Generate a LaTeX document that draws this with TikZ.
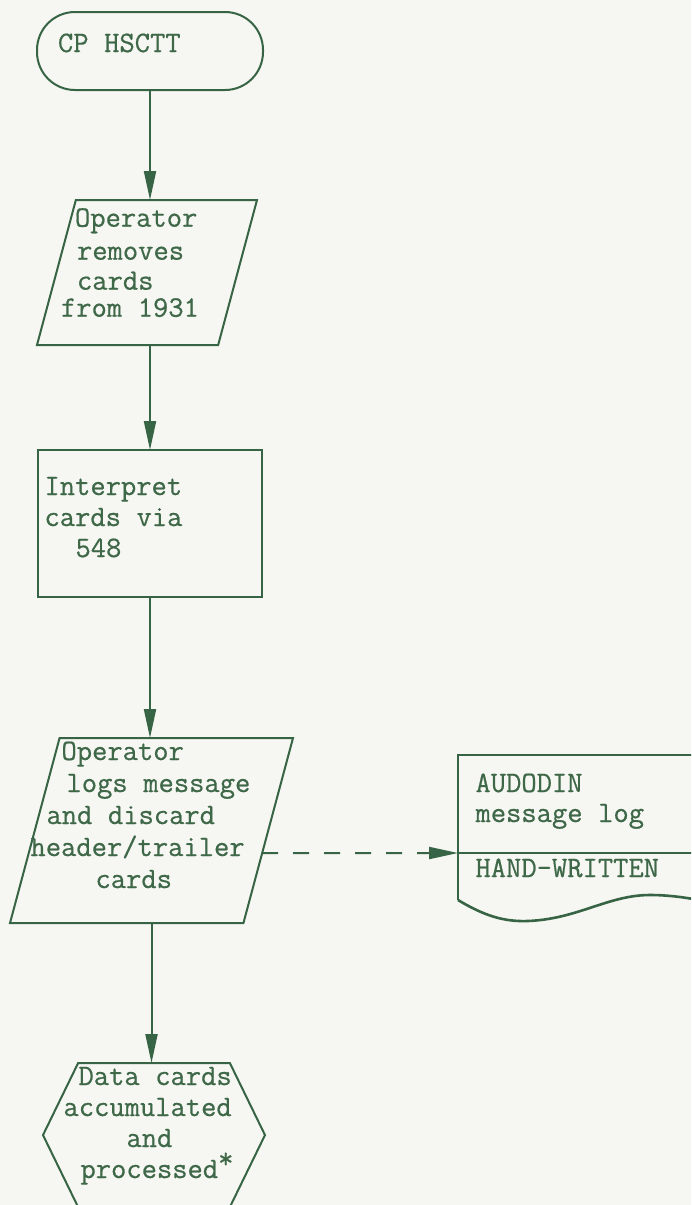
\documentclass[tikz,border=0pt]{standalone}
\usepackage{fontspec}
\newfontfamily\typer{Latin Modern Mono}[FakeBold=0.6]
\usetikzlibrary{arrows.meta,positioning,calc,shapes.geometric,shapes.symbols}

\definecolor{ink}{RGB}{55,100,68}
\definecolor{typecol}{RGB}{62,104,72}
\definecolor{paper}{RGB}{246,247,242}

\newcommand{\ind}[1]{\hspace*{#1pt}}
\newcommand{\gap}{\hspace*{15.6pt}}
\protected\def\typeface{\typer\fontsize{29.7pt}{31pt}\selectfont}

\begin{document}
\begin{tikzpicture}[x=1pt,y=-1pt,line width=2pt,
                    >={Triangle[length=29pt,width=12pt]}]
  \tikzset{
    every node/.style={inner sep=0pt,outer sep=0pt},
    typed/.style={font=\typeface,text=typecol,anchor=base west,
                  text width=260pt,align=left},
    term/.style={draw=ink,rectangle,rounded corners=38pt,
                 minimum width=226pt,minimum height=78pt},
    io/.style={draw=ink,trapezium,trapezium left angle=75,
               trapezium right angle=105,trapezium stretches body,
               text depth=0pt},
    proc/.style={draw=ink,rectangle,minimum width=224pt,minimum height=147pt},
    prep/.style={draw=ink,signal,signal to=west and east,
                 signal pointer angle=128,
                 minimum width=222pt,minimum height=144pt},
    flow/.style={->,draw=ink}
  }
  \useasboundingbox (0,0) rectangle (691,1205);
  \fill[paper] (0,0) rectangle (691,1205);
  \clip (0,0) rectangle (691,1205);

  \node[term] (start) at (150,51) {};
  \node[io,text height=145pt,minimum width=220pt]
        (remove) [below=110pt of start,xshift=-3pt] {};
  \node[proc] (interp) [below=105pt of remove,xshift=3pt] {};
  \node[io,text height=185pt,minimum width=283pt]
        (discard) [below=141pt of interp,xshift=1.5pt] {};
  \node[prep] (accum) [below=140pt of discard,xshift=2.5pt] {};
  \node[minimum width=262pt,minimum height=98pt] (log) at (589,804) {};

  % texts
  \node[typed] (start-t)   at (58,52)     {CP\gap HSCTT};
  \node[typed] (remove-t)  at (61,226.7)  {\ind{14}Operator\\[2pt]\ind{16}removes\\[-1pt]\ind{16}cards\\[-4pt]from\gap 1931};
  \node[typed] (interp-t)  at (44.5,495)  {Interpret\\cards\gap via\\\ind{31}548};
  \node[typed] (discard-t) at (30.5,760)  {\ind{31}Operator\\[1pt]\ind{36}logs\gap message\\[1pt]\ind{16}and\gap discard\\[1pt]header/trailer\\[1pt]\ind{65}cards};
  \node[typed] (accum-t)   at (63.5,1085) {\ind{15}Data\gap cards\\accumulated\\\ind{63}and\\\ind{17}processed\raisebox{10pt}{*}};
  \node[typed] (log-t)     at (475.5,792) {AUDODIN\\[-1pt]message\gap log};
  \node[typed] (hand-t)    at (475.5,877) {HAND-WRITTEN};

  % document outline
  \draw[ink] (log.north east) -- (log.north west) -- (log.south west) -- (log.south east);
  \begin{scope}[shift={(log.south west)}]
    \draw[ink] (0,0) -- (0,47);
    \draw[ink,line width=2.6pt] (0,47) .. controls (25,62) and (45,69) .. (70,68)
          .. controls (120,66) and (150,42) .. (192,42)
          .. controls (215,42) and (240,46) .. (262,52);
  \end{scope}

  \draw[flow] (start.south) -- (start.south |- remove.north);
  \draw[flow] (remove.south -| interp.north) -- (interp.north);
  \draw[flow] (interp.south) -- (interp.south |- discard.north);
  \draw[flow] (discard.south) -- (discard.south |- accum.north);
  \coordinate (tap) at ($(discard.top right corner)!0.6216!(discard.bottom right corner)$);
  \draw[flow,dash pattern=on 16pt off 15pt] (tap) -- (log.south west);
\end{tikzpicture}
\end{document}
